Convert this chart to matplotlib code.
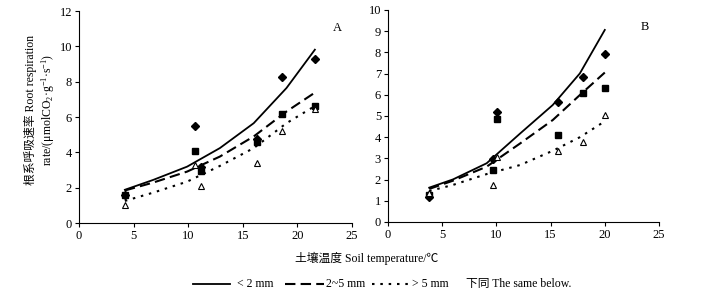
import matplotlib
matplotlib.use("Agg")
import matplotlib.pyplot as plt
from matplotlib.lines import Line2D

plt.rcParams['font.family'] = ['Liberation Serif', 'Noto Sans CJK SC', 'DejaVu Sans']
plt.rcParams['mathtext.fontset'] = 'custom'
plt.rcParams['mathtext.rm'] = 'Liberation Serif'
plt.rcParams['mathtext.it'] = 'Liberation Serif:italic'
FS = 8.5
plt.rcParams['font.size'] = FS

# ---------- Panel A data ----------
xA = [4.2, 10.6, 11.2, 16.3, 18.6, 21.6]
a_lt2 = [1.57, 5.5, 3.17, 4.73, 8.24, 9.26]     # <2 mm (diamonds)
a_25 = [1.57, 4.08, 2.95, 4.56, 6.18, 6.65]     # 2~5 mm (squares)
a_gt5 = [1.04, 3.27, 2.12, 3.4, 5.22, 6.43]     # >5 mm (triangles)
# fitted curves
xA_fit = [4.2, 6.8, 9.9, 12.9, 16.0, 19.0, 21.6]
a_fit_lt2 = [1.88, 2.44, 3.19, 4.24, 5.65, 7.64, 9.81]
a_fit_25 = [1.84, 2.29, 2.91, 3.76, 4.90, 6.31, 7.38]
a_fit_gt5 = [1.25, 1.72, 2.34, 3.23, 4.24, 5.65, 6.62]

# ---------- Panel B data ----------
xB = [3.8, 9.7, 10.1, 15.7, 17.95, 20.0]
b_lt2 = [1.16, 2.97, 5.21, 5.65, 6.82, 7.91]
b_25 = [1.26, 2.45, 4.87, 4.11, 6.1, 6.31]
b_gt5 = [1.37, 1.76, 3.06, 3.33, 3.78, 5.05]
xB_fit = [3.8, 6.0, 9.1, 12.2, 15.2, 17.7, 20.0]
b_fit_lt2 = [1.62, 2.01, 2.77, 4.18, 5.52, 7.01, 9.06]
b_fit_25 = [1.56, 1.95, 2.61, 3.71, 4.81, 5.99, 7.05]
b_fit_gt5 = [1.46, 1.75, 2.26, 2.69, 3.36, 4.00, 4.75]

legend_labels = ['< 2 mm', '2~5 mm', '> 5 mm']
legend_note = '下同 The same below.'
xlabel = '土壤温度 Soil temperature/℃'
ylabel1 = '根系呼吸速率 Root respiration'
ylabel2 = r'rate/(μmolCO$_2$·g$^{-1}$·s$^{-1}$)'

W, H = 721, 290
fig = plt.figure(figsize=(W/100, H/100), dpi=100)
axA = fig.add_axes([79/W, 1-223/H, (352-79)/W, (223-11)/H])
axB = fig.add_axes([388/W, 1-222/H, (659-388)/W, (222-10)/H])

styles = [dict(ls='-', lw=1.3),
          dict(ls=(0, (5, 2.5)), lw=1.5),
          dict(ls=(0, (1.2, 2.8)), lw=1.5)]

def draw(ax, x, pts, xf, fits, ymax, yticks, label):
    d, s, t = pts
    ax.plot(x, d, ls='none', marker='D', ms=4.2, color='black', zorder=3)
    ax.plot(x, s, ls='none', marker='s', ms=5, color='black', zorder=3)
    ax.plot(x, t, ls='none', marker='^', ms=5, mfc='white', mec='black', mew=0.8, zorder=3)
    for f, st in zip(fits, styles):
        ax.plot(xf, f, color='black', **st)
    ax.set_xlim(0, 25)
    ax.set_ylim(0, ymax)
    ax.set_xticks([0, 5, 10, 15, 20, 25])
    ax.set_yticks(yticks)
    for sp in ['top', 'right']:
        ax.spines[sp].set_visible(False)
    ax.tick_params(direction='out', length=3, width=0.8, pad=2, labelsize=FS + 0.5)
    ax.text(23.7, ymax * 0.92, label, ha='center', va='center', fontsize=FS + 0.5)

draw(axA, xA, (a_lt2, a_25, a_gt5), xA_fit, (a_fit_lt2, a_fit_25, a_fit_gt5), 12,
     [0, 2, 4, 6, 8, 10, 12], 'A')
draw(axB, xB, (b_lt2, b_25, b_gt5), xB_fit, (b_fit_lt2, b_fit_25, b_fit_gt5), 10,
     list(range(0, 11)), 'B')

fig.text(30/W, 1-110/H, ylabel1, rotation=90, ha='center', va='center', fontsize=FS)
fig.text(48/W, 1-110/H, ylabel2, rotation=90, ha='center', va='center', fontsize=FS)
fig.text(367/W, 1-258/H, xlabel, ha='center', va='center', fontsize=FS)

# legend row (drawn in figure pixel positions)
ly = 1 - 284/H
seg = [(193, 230), (285, 324), (372, 410)]
txt_x = [237, 326, 412]
for (x0, x1), st, tx, lab in zip(seg, styles, txt_x, legend_labels):
    fig.add_artist(Line2D([x0/W, x1/W], [ly, ly], color='black', transform=fig.transFigure, **st))
    fig.text(tx/W, ly, lab, ha='left', va='center', fontsize=FS)
fig.text(466/W, ly, legend_note, ha='left', va='center', fontsize=FS)

fig.savefig('out.png', dpi=100)
